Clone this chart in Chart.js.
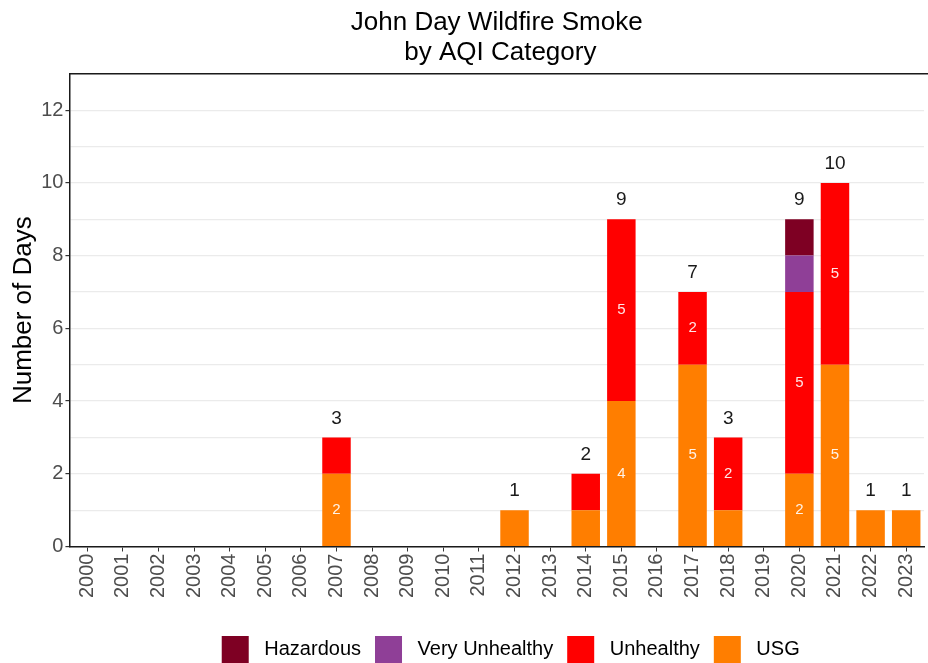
<!DOCTYPE html>
<html>
<head>
<meta charset="utf-8">
<script src="https://cdn.jsdelivr.net/npm/chart.js@4"></script>
<style>
  html, body { margin: 0; padding: 0; background: #fff; }
  #wrap { width: 928px; height: 663px; }
</style>
</head>
<body>
<div id="wrap"><canvas id="smoke"></canvas></div>
<script>
var years = ['2000', '2001', '2002', '2003', '2004', '2005', '2006', '2007', '2008', '2009', '2010', '2011',
  '2012', '2013', '2014', '2015', '2016', '2017', '2018', '2019', '2020', '2021', '2022', '2023'];
var usg           = [0, 0, 0, 0, 0, 0, 0, 2, 0, 0, 0, 0, 1, 0, 1, 4, 0, 5, 1, 0, 2, 5, 1, 1];
var unhealthy     = [0, 0, 0, 0, 0, 0, 0, 1, 0, 0, 0, 0, 0, 0, 1, 5, 0, 2, 2, 0, 5, 5, 0, 0];
var veryUnhealthy = [0, 0, 0, 0, 0, 0, 0, 0, 0, 0, 0, 0, 0, 0, 0, 0, 0, 0, 0, 0, 1, 0, 0, 0];
var hazardous     = [0, 0, 0, 0, 0, 0, 0, 0, 0, 0, 0, 0, 0, 0, 0, 0, 0, 0, 0, 0, 1, 0, 0, 0];
var yTicks = [0, 2, 4, 6, 8, 10, 12];

var FONT = "'Liberation Sans', Arial, sans-serif";

// white counts inside segments, black totals on top
var barLabels = {
  id: 'barLabels',
  afterDatasetsDraw: function(chart) {
    var ctx = chart.ctx;
    ctx.save();
    ctx.textAlign = 'center';
    ctx.textBaseline = 'middle';
    var tops = {};
    chart.data.datasets.forEach(function(ds, i) {
      var meta = chart.getDatasetMeta(i);
      meta.data.forEach(function(bar, j) {
        var v = ds.data[j];
        if (!v) return;
        if (tops[j] === undefined || bar.y < tops[j].y) tops[j] = { x: bar.x, y: bar.y };
        if (v >= 2) {
          ctx.fillStyle = 'rgba(255,255,255,0.9)';
          ctx.font = '15px ' + FONT;
          ctx.fillText(v, bar.x, (bar.y + bar.base) / 2);
        }
      });
    });
    ctx.fillStyle = '#1a1a1a';
    ctx.font = '19px ' + FONT;
    Object.keys(tops).forEach(function(j) {
      var total = usg[j] + unhealthy[j] + veryUnhealthy[j] + hazardous[j];
      ctx.fillText(total, tops[j].x, tops[j].y - 19);
    });
    ctx.restore();
  }
};

// panel top border line, legend nudged right like the original
var panelBits = {
  id: 'panelBits',
  afterLayout: function(chart) {
    if (chart.legend) {
      chart.legend.left += 14;
      chart.legend.right += 14;
    }
  },
  afterDraw: function(chart) {
    var a = chart.chartArea, ctx = chart.ctx;
    ctx.save();
    ctx.strokeStyle = '#1a1a1a';
    ctx.lineWidth = 1.5;
    ctx.beginPath();
    ctx.moveTo(a.left, a.top);
    ctx.lineTo(chart.width, a.top);
    ctx.stroke();
    ctx.restore();
  }
};

var ctx = document.getElementById('smoke').getContext('2d');
var myChart = new Chart(ctx, {
  type: 'bar',
  data: {
    labels: years,
    datasets: [
      { label: 'USG', data: usg, backgroundColor: '#FF7E00' },
      { label: 'Unhealthy', data: unhealthy, backgroundColor: '#FF0000' },
      { label: 'Very Unhealthy', data: veryUnhealthy, backgroundColor: '#8F3F97' },
      { label: 'Hazardous', data: hazardous, backgroundColor: '#7E0023' }
    ]
  },
  options: {
    responsive: true,
    maintainAspectRatio: false,
    animation: false,
    layout: { padding: { left: 4, right: 4, top: 4, bottom: -10 } },
    datasets: { bar: { barPercentage: 0.8, categoryPercentage: 1.0, borderWidth: 0 } },
    plugins: {
      title: {
        display: true,
        text: ['John Day Wildfire Smoke', ' by AQI Category'],
        color: '#000',
        fullSize: false,
        font: { family: FONT, size: 26, weight: 'normal', lineHeight: 1.15 },
        padding: { top: 4, bottom: 6 }
      },
      legend: {
        position: 'bottom',
        reverse: true,
        fullSize: false,
        labels: {
          color: '#000',
          font: { family: FONT, size: 20 },
          boxWidth: 27,
          boxHeight: 27,
          padding: 14,
          generateLabels: function(chart) {
            var items = Chart.defaults.plugins.legend.labels.generateLabels(chart);
            items.forEach(function(it) { it.text = ' ' + it.text; it.lineWidth = 0; });
            return items;
          }
        }
      },
      tooltip: { enabled: false }
    },
    scales: {
      x: {
        stacked: true,
        afterFit: function(scale) {
          scale.height += 22;
          scale.paddingLeft = 0;
          scale.paddingRight = 0;
        },
        grid: { offset: false, drawOnChartArea: false, drawTicks: true, tickLength: 5, color: '#333' },
        border: { color: '#1a1a1a', width: 1.5 },
        ticks: {
          color: '#4d4d4d',
          font: { family: FONT, size: 20 },
          minRotation: 90,
          maxRotation: 90,
          autoSkip: false,
          padding: 2
        }
      },
      y: {
        stacked: true,
        min: 0,
        max: 13,
        title: {
          display: true,
          text: 'Number of Days',
          color: '#000',
          font: { family: FONT, size: 26 },
          padding: { top: 4, bottom: 0 }
        },
        border: { color: '#1a1a1a', width: 1.5 },
        grid: {
          color: '#ebebeb',
          lineWidth: 1.2,
          tickLength: 4,
          tickColor: function(c) {
            return c.tick && yTicks.indexOf(c.tick.value) >= 0 ? '#333' : 'rgba(0,0,0,0)';
          }
        },
        ticks: {
          stepSize: 1,
          color: '#4d4d4d',
          font: { family: FONT, size: 20 },
          padding: 2,
          callback: function(v) { return yTicks.indexOf(v) >= 0 ? v : ''; }
        }
      }
    }
  },
  plugins: [barLabels, panelBits]
});
</script>
</body>
</html>
